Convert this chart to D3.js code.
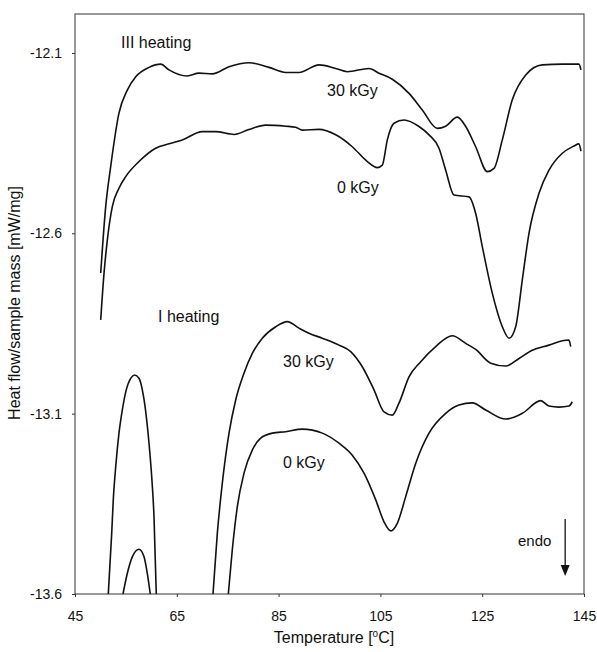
<!DOCTYPE html>
<html>
<head>
<meta charset="utf-8">
<script src="https://cdn.jsdelivr.net/npm/d3@7"></script>
<style>
  body { margin: 0; background: #fff; }
  svg { font-family: "Liberation Sans", Arial, sans-serif; }
  .curve { fill: none; stroke: #111; stroke-width: 1.6; stroke-linejoin: round; }
  .frame { fill: none; stroke: #333; stroke-width: 1; }
  .axis path { display: none; }
  .axis line { stroke: #333; }
  .axis text { font-size: 14px; fill: #111; }
  .lbl { font-size: 16px; fill: #111; }
</style>
</head>
<body>
<script>
// x axis ticks / y axis ticks
var xTicks = [45, 65, 85, 105, 125, 145];
var yTicks = [-12.1, -12.6, -13.1, -13.6];

// III heating, 30 kGy
var temp3_30 = [50.05,51.03,52.01,53.64,55.28,56.93,59.54,61.84,63.47,67.06,69.36,71.97,75.26,79.18,83.11,86.40,89.01,92.94,96.22,98.50,102.76,104.72,107.34,110.62,113.23,116.18,117.83,120.11,121.76,123.72,126.0,127.32,128.95,130.91,133.55,136.81,140.74,144.0,144.4];
var flow3_30 = [-12.710,-12.526,-12.415,-12.267,-12.203,-12.166,-12.140,-12.131,-12.147,-12.164,-12.156,-12.158,-12.138,-12.127,-12.140,-12.154,-12.154,-12.133,-12.143,-12.152,-12.143,-12.156,-12.173,-12.212,-12.258,-12.309,-12.303,-12.278,-12.304,-12.360,-12.429,-12.420,-12.341,-12.230,-12.161,-12.133,-12.131,-12.131,-12.147];

// III heating, 0 kGy
var temp3_0 = [50.05,50.70,51.35,52.33,53.64,54.96,57.57,60.85,63.47,66.08,70.01,72.64,76.24,79.18,82.47,86.40,88.36,89.66,92.94,96.22,99.48,102.43,104.39,105.37,106.36,107.67,109.64,112.58,114.55,116.51,117.83,119.46,122.41,123.72,125.02,126.98,128.95,130.27,131.58,132.88,134.19,136.16,138.12,140.74,143.04,144.0,144.4];
var flow3_0 = [-12.840,-12.711,-12.619,-12.526,-12.475,-12.443,-12.401,-12.364,-12.352,-12.341,-12.318,-12.318,-12.326,-12.312,-12.300,-12.303,-12.306,-12.314,-12.312,-12.327,-12.360,-12.401,-12.418,-12.411,-12.341,-12.295,-12.286,-12.304,-12.327,-12.364,-12.425,-12.494,-12.499,-12.545,-12.637,-12.766,-12.859,-12.891,-12.859,-12.729,-12.600,-12.489,-12.425,-12.378,-12.358,-12.352,-12.372];

// I heating, 30 kGy (null = off scale, below -13.6)
var temp1_30 = [51.54,52.21,52.52,53.0,53.64,54.29,55.07,55.94,56.73,57.57,58.36,59.01,59.54,60.07,60.52,60.97,66,72.11,72.96,73.94,75.26,76.57,78.2,79.83,81.80,84.43,86.71,89.01,90.97,93.59,96.87,99.16,101.44,103.74,105.71,107.34,108.65,110.62,112.92,115.86,119.13,121.76,123.72,126.67,129.62,132.23,134.84,138.12,140.74,142.05,142.38];
var flow1_30 = [-13.6,-13.432,-13.339,-13.247,-13.154,-13.090,-13.034,-13.002,-12.993,-13.002,-13.044,-13.108,-13.182,-13.275,-13.386,-13.6,null,-13.6,-13.432,-13.293,-13.154,-13.062,-12.988,-12.933,-12.891,-12.859,-12.845,-12.863,-12.877,-12.891,-12.910,-12.928,-12.970,-13.034,-13.095,-13.104,-13.071,-12.998,-12.956,-12.914,-12.884,-12.905,-12.922,-12.960,-12.968,-12.947,-12.924,-12.910,-12.898,-12.896,-12.914];

// I heating, 0 kGy
var temp1_0 = [54.43,55.27,56.26,57.57,58.56,59.20,59.79,66,75.12,75.90,76.89,78.2,79.83,81.48,83.76,86.40,89.66,93.59,96.87,99.48,101.78,104.08,105.71,107.02,108.32,109.97,111.93,114.55,117.83,120.44,123.06,125.69,129.62,132.88,136.49,138.12,140.09,142.05,142.7];
var flow1_0 = [-13.6,-13.543,-13.497,-13.476,-13.497,-13.543,-13.6,null,-13.6,-13.478,-13.358,-13.265,-13.201,-13.168,-13.154,-13.150,-13.143,-13.154,-13.182,-13.215,-13.265,-13.339,-13.400,-13.425,-13.404,-13.330,-13.238,-13.154,-13.099,-13.076,-13.070,-13.090,-13.115,-13.099,-13.064,-13.079,-13.082,-13.079,-13.067];

var width = 597, height = 652;
var margin = {top: 14, right: 13, bottom: 58, left: 75};
var w = width - margin.left - margin.right,
    h = height - margin.top - margin.bottom;

var svg = d3.select("body").append("svg")
    .attr("width", width)
    .attr("height", height);

var g = svg.append("g")
    .attr("transform", "translate(" + margin.left + "," + margin.top + ")");

var x = d3.scaleLinear().domain([45, 145]).range([0, w]);
var y = d3.scaleLinear().domain([-13.6, -11.992]).range([h, 0]);

g.append("clipPath").attr("id", "plot")
  .append("rect").attr("width", w).attr("height", h);

// axes
g.append("g")
    .attr("class", "axis")
    .attr("transform", "translate(0," + h + ")")
    .call(d3.axisBottom(x).tickValues(xTicks).tickSize(3).tickPadding(14).tickFormat(d3.format("d")));

g.append("g")
    .attr("class", "axis")
    .call(d3.axisLeft(y).tickValues(yTicks).tickSize(3).tickPadding(10).tickFormat(function(d) { return d.toFixed(1); }));

g.append("rect")
    .attr("class", "frame")
    .attr("width", w)
    .attr("height", h);

var line = d3.line()
    .defined(function(d) { return d[1] != null; })
    .x(function(d) { return x(d[0]); })
    .y(function(d) { return y(d[1]); })
    .curve(d3.curveMonotoneX);

function pairs(t, v) {
    return t.map(function(d, i) { return [d, v[i]]; });
}

var curves = [
    pairs(temp3_30, flow3_30),
    pairs(temp3_0, flow3_0),
    pairs(temp1_30, flow1_30),
    pairs(temp1_0, flow1_0)
];

g.append("g")
    .attr("clip-path", "url(#plot)")
    .selectAll("path")
    .data(curves)
    .enter().append("path")
    .attr("class", "curve")
    .attr("d", line);

// labels
svg.append("text").attr("class", "lbl").attr("x", 121).attr("y", 48).text("III heating");
svg.append("text").attr("class", "lbl").attr("x", 327).attr("y", 96).text("30 kGy");
svg.append("text").attr("class", "lbl").attr("x", 337).attr("y", 193).text("0 kGy");
svg.append("text").attr("class", "lbl").attr("x", 158).attr("y", 322).text("I heating");
svg.append("text").attr("class", "lbl").attr("x", 283).attr("y", 367).text("30 kGy");
svg.append("text").attr("class", "lbl").attr("x", 283).attr("y", 468).text("0 kGy");
svg.append("text").attr("class", "lbl").attr("x", 518).attr("y", 546).style("font-size", "15px").text("endo");

// endo arrow
var ax = x(141.3) , ay0 = y(-13.392), ay1 = y(-13.55);
g.append("line")
    .attr("x1", ax).attr("x2", ax)
    .attr("y1", ay0).attr("y2", ay1 - 9)
    .attr("stroke", "#111").attr("stroke-width", 1.3);
g.append("path")
    .attr("d", "M" + (ax - 4.5) + "," + (ay1 - 11) + "L" + (ax + 4.5) + "," + (ay1 - 11) + "L" + ax + "," + ay1 + "Z")
    .attr("fill", "#111");

// axis titles
var xt = svg.append("text").attr("class", "lbl")
    .attr("x", 334).attr("y", 643)
    .attr("text-anchor", "middle");
xt.append("tspan").text("Temperature  [");
xt.append("tspan").attr("dy", -6).style("font-size", "10px").text("o");
xt.append("tspan").attr("dy", 6).text("C]");

svg.append("text").attr("class", "lbl")
    .attr("transform", "translate(20,303) rotate(-90)")
    .attr("text-anchor", "middle")
    .text("Heat flow/sample mass [mW/mg]");
</script>
</body>
</html>
